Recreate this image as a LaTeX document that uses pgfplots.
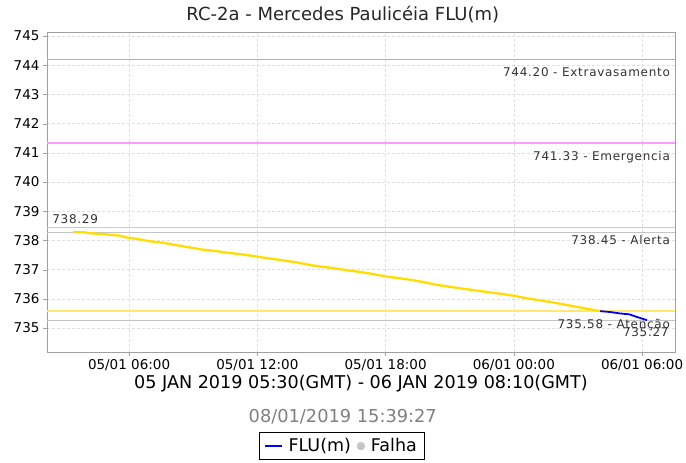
\documentclass[border=0pt]{standalone}
\usepackage{fontspec}
\setmainfont{DejaVu Sans}
\newfontfamily\lblfont[LetterSpace=6]{DejaVu Sans}
\usepackage{pgfplots}
\pgfplotsset{compat=1.18}

\definecolor{flu}{RGB}{255,221,0}
\definecolor{limExtrav}{RGB}{255,140,150}
\definecolor{limEmerg}{RGB}{255,156,255}
\definecolor{limAlerta}{RGB}{255,190,130}
\definecolor{limAtenc}{RGB}{255,232,110}
\definecolor{marc}{RGB}{196,196,196}
\definecolor{frame}{RGB}{160,160,160}
\definecolor{lbl}{RGB}{51,51,51}

% hours counted from 05/01 00:00
\pgfplotstableread{
h v
3.38 738.29
3.90 738.28
4.30 738.24
4.90 738.21
5.50 738.17
5.90 738.10
6.40 738.05
7.00 737.97
7.60 737.92
8.20 737.84
8.85 737.76
9.40 737.69
10.00 737.64
10.60 737.58
11.20 737.53
11.70 737.48
12.13 737.43
12.70 737.37
13.30 737.31
13.90 737.24
14.47 737.16
15.00 737.10
15.60 737.05
16.20 736.98
16.80 736.92
17.40 736.85
17.98 736.77
18.60 736.71
19.20 736.65
19.80 736.57
20.40 736.48
21.02 736.41
21.60 736.35
22.20 736.29
22.80 736.23
23.40 736.17
24.06 736.10
24.60 736.02
25.20 735.95
25.80 735.88
26.40 735.80
27.00 735.72
27.50 735.65
28.04 735.58
}\amarelo

\pgfplotstableread{
h v
28.04 735.58
28.50 735.55
28.97 735.50
29.40 735.47
29.80 735.37
30.23 735.27
}\azul

% threshold levels
\pgfplotstableread{
x y
2.16 744.20
31.54 744.20
}\extrav
\pgfplotstableread{
x y
2.16 738.45
31.54 738.45
}\alerta
\pgfplotstableread{
x y
2.16 735.58
31.54 735.58
}\atencao

\begin{document}
\begin{tikzpicture}
\begin{axis}[
    width=628pt, height=320pt,
    scale only axis,
    clip=false,
    xmin=2.16, xmax=31.54,
    ymin=734.18, ymax=745.14,
    xtick={6,12,18,24,30},
    xticklabels={05/01 06:00,05/01 12:00,05/01 18:00,06/01 00:00,06/01 06:00},
    ytick={735,736,...,745},
    /pgf/number format/assume math mode=true,
    tick label style={font=\fontsize{13.5}{15}\selectfont},
    axis line style={frame},
    tick style={frame},
    tick align=outside,
    major tick length=4pt,
    xtick pos=bottom, ytick pos=left,
    grid=major,
    grid style={densely dashed, gray!25},
    legend style={at={(0.469,-0.294)}, anchor=center, draw=black,
        legend columns=2, font=\fontsize{17.5}{19}\selectfont,
        inner xsep=5pt, inner ysep=4pt, column sep=4pt},
    legend cell align=left,
]
\addlegendimage{blue, line width=1.2pt}
\addlegendentry{FLU(m)}
\addlegendimage{only marks, mark=*, mark size=4pt, mark options={fill=gray!45, draw=gray!45}}
\addlegendentry{Falha}

\addplot[draw=marc, line width=0.9pt, forget plot] coordinates {(2.16,738.29) (31.54,738.29)};
\addplot[draw=marc, line width=0.9pt, forget plot] coordinates {(2.16,735.27) (31.54,735.27)};
\addplot[draw=limEmerg, line width=1.5pt, forget plot] coordinates {(2.16,741.33) (31.54,741.33)};
\addplot[draw=limExtrav, line width=1.6pt, forget plot] table[x=x, y=y] {\extrav};
\addplot[draw=limAlerta, line width=1.6pt, forget plot] table[x=x, y=y] {\alerta};
\addplot[draw=limAtenc, line width=1.3pt, forget plot] table[x=x, y=y] {\atencao};

\addplot[draw=flu, line width=2.3pt, forget plot] table[x=h, y=v] {\amarelo};
\addplot[draw=blue, line width=1.8pt, forget plot] table[x=h, y=v] {\azul};

\begin{scope}[every node/.style={font=\lblfont\fontsize{12}{14}\selectfont, text=lbl, inner sep=0pt}]
\node[anchor=north east] at ([yshift=-7.5pt]axis cs:31.31,744.20) {744.20 - Extravasamento};
\node[anchor=north east] at ([yshift=-7.5pt]axis cs:31.31,741.33) {741.33 - Emergencia};
\node[anchor=north east] at ([yshift=-7.5pt]axis cs:31.31,738.45) {738.45 - Alerta};
\node[anchor=north east] at ([yshift=-7.5pt]axis cs:31.31,735.58) {735.58 - Atenção};
\node[anchor=north east] at ([yshift=-7.5pt]axis cs:31.25,735.27) {735.27};
\node[anchor=base west] at ([yshift=8pt]axis cs:2.40,738.29) {738.29};
\end{scope}

\node[font=\fontsize{18}{20}\selectfont, text=black!85] at (rel axis cs:0.471,1.056) {RC-2a - Mercedes Paulicéia FLU(m)};
\node[font=\fontsize{17.6}{19}\selectfont] at (rel axis cs:0.5,-0.1) {05 JAN 2019 05:30(GMT) - 06 JAN 2019 08:10(GMT)};
\node[font=\fontsize{17.8}{19}\selectfont, text=gray] at (rel axis cs:0.471,-0.203) {08/01/2019 15:39:27};

\coordinate (o) at (rel axis cs:0,0);
\end{axis}
\pgfresetboundingbox
\path ([shift={(-47pt,-111pt)}]o) rectangle ([shift={(639pt,352pt)}]o);
\end{tikzpicture}
\end{document}
